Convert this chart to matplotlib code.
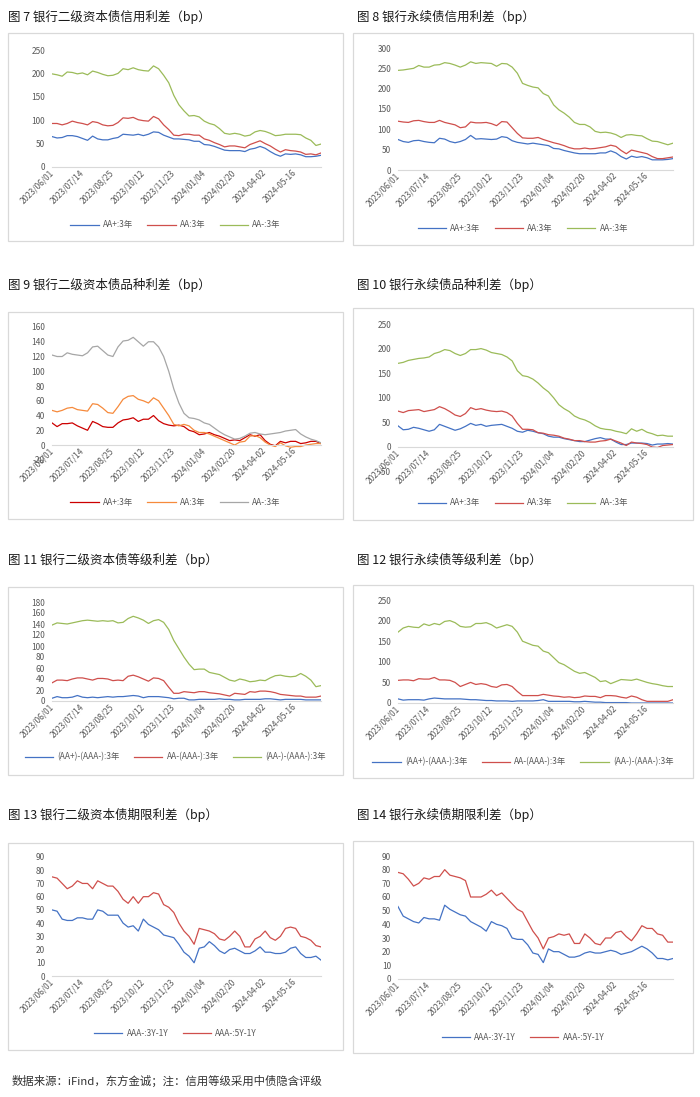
import matplotlib
matplotlib.use("Agg")
import matplotlib.pyplot as plt
from matplotlib.patches import Rectangle

plt.rcParams['font.family'] = ['Noto Sans CJK SC', 'DejaVu Sans']

# sampled trading-day positions (every 5th trading day from 2023/06/01)
day_index = list(range(0, 270, 5))
tick_pos = [0, 30, 60, 90, 120, 150, 180, 210, 240]
tick_labels = ["2023/06/01", "2023/07/14", "2023/08/25", "2023/10/12", "2023/11/23",
               "2024/01/04", "2024/02/20", "2024-04-02", "2024-05-16"]

# Fig 7: bank tier-2 credit spread
aa_plus_7 = [65,62,63,67,67,65,61,57,66,60, 58,58,61,63,70,69,68,70,67,70,
             75,74,68,64,60,60,59,58,55,55, 48,47,44,40,36,35,35,35,33,38,
             40,44,40,33,27,23,28,27,28,26, 22,22,23,25]
aa_7 = [93,93,90,93,98,95,93,90,97,95, 90,88,89,95,105,104,106,101,99,98,
        108,103,90,80,68,67,70,70,68,68, 60,57,52,48,43,45,45,43,41,48,
        52,56,50,45,38,32,37,35,34,32, 27,28,26,30]
aa_minus_7 = [199,197,194,203,202,199,201,197,205,202, 198,195,196,200,210,208,212,208,206,205,
              216,210,196,180,153,133,120,109,110,107, 98,93,90,82,72,70,72,70,66,68,
              75,78,76,72,67,68,70,70,70,69, 62,57,46,49]

# Fig 8: bank perpetual credit spread
aa_plus_8 = [75,70,68,72,73,70,68,67,78,76, 70,67,70,75,85,76,77,76,75,76,
             82,80,72,68,66,64,66,64,62,60, 53,52,48,45,42,40,40,40,40,42,
             42,47,42,33,27,34,31,33,30,25, 25,25,26,28]
aa_8 = [120,118,117,121,122,119,117,117,122,117, 114,111,104,106,118,116,116,117,114,109,
        119,118,104,90,79,78,78,80,75,71, 67,64,60,55,52,52,54,52,53,55,
        57,61,58,48,40,49,46,43,40,33, 28,28,30,32]
aa_minus_8 = [245,246,248,250,257,253,253,258,259,264, 262,258,253,258,266,262,264,263,262,255,
              262,261,253,238,213,208,204,202,188,182, 160,148,140,130,117,112,112,106,95,92,
              93,91,87,80,86,87,85,84,77,71, 70,66,62,66]

# Fig 9: tier-2 variety spread
aa_plus_9 = [30,25,29,29,30,26,23,20,32,29, 25,24,24,30,34,35,37,32,35,35,
             40,33,29,27,26,27,25,20,18,14, 15,17,14,12,9,6,7,6,10,14,
             12,14,6,1,-1,5,3,5,5,2, 3,5,5,2]
aa_9 = [47,45,47,50,51,48,47,46,56,55, 50,44,43,52,62,66,67,62,60,57,
        64,60,50,40,28,26,28,26,20,17, 17,15,12,9,6,3,0,4,5,12,
        13,10,4,0,-2,3,-1,-3,-2,-2, 0,1,2,2]
aa_minus_9 = [122,120,120,125,123,122,121,125,133,134, 128,122,120,133,141,142,146,140,134,140,
              140,133,120,100,76,57,43,37,36,34, 30,28,23,18,14,11,8,9,12,16,
              17,15,14,15,16,17,19,20,21,15, 11,8,6,3]

# Fig 10: perpetual variety spread
aa_plus_10 = [43,35,36,40,38,35,32,35,46,42, 38,34,37,42,48,44,46,42,44,45,
              46,42,38,32,30,34,32,29,27,22, 20,20,17,15,13,11,11,14,17,19,
              16,16,10,5,5,8,8,8,7,4, 6,6,7,6]
aa_10 = [73,70,74,75,76,72,74,76,82,78, 72,65,62,68,80,76,78,75,73,72,
         73,70,63,48,36,36,35,29,28,25, 24,22,18,16,13,13,11,10,10,12,
         13,16,12,8,3,10,8,7,5,0, -1,3,4,5]
aa_minus_10 = [170,172,176,178,180,181,183,190,193,198, 196,190,186,190,198,198,200,197,192,190,
               188,183,175,155,145,143,138,130,120,112, 100,86,78,72,63,58,55,50,43,38,
               36,35,32,30,27,37,32,36,30,27, 23,24,22,22]

# Fig 11: tier-2 grade spread
g11_aap = [5,8,6,6,7,10,7,6,7,6, 7,8,7,8,8,9,10,9,6,8,
           8,8,7,6,4,5,5,2,2,3, 3,3,3,4,3,3,2,2,3,3,
           3,3,4,4,3,2,3,3,3,3, 2,2,2,2]
g11_aa = [33,38,38,37,40,42,42,40,38,41, 41,40,37,38,37,45,47,44,40,36,
          42,41,37,25,14,14,17,16,15,17, 17,15,14,13,11,9,14,13,12,17,
          16,18,18,17,15,12,11,10,9,9, 7,7,7,9]
g11_aam = [138,142,141,140,142,144,146,147,146,145, 146,145,146,142,143,150,154,151,147,141,
           146,148,143,130,110,95,80,67,57,58, 58,52,50,48,43,38,36,40,38,35,
           36,38,37,42,46,47,45,44,45,50, 45,38,26,28]

# Fig 12: perpetual grade spread
g12_aap = [10,7,8,8,8,7,10,12,11,10, 10,10,10,9,8,8,7,6,6,5,
           5,5,4,5,5,5,5,6,8,4, 4,4,4,4,3,3,4,3,2,2,
           1,1,1,1,1,0,0,0,0,0, 0,0,0,0]
g12_aa = [55,56,56,54,59,58,58,62,56,56, 55,50,40,45,50,45,47,45,40,38,
          44,45,40,28,18,18,18,18,21,19, 17,16,14,15,13,14,17,16,16,13,
          18,18,17,14,12,17,14,8,4,4, 4,4,4,8]
g12_aam = [172,182,186,184,183,192,188,193,190,198, 200,195,186,184,185,193,193,195,190,182,
           186,190,186,172,150,145,140,138,126,122, 110,98,93,85,77,72,74,68,62,52,
           54,47,52,57,56,55,58,54,50,47, 45,42,40,40]

# Fig 13: tier-2 term spread
t13_3y = [50,49,43,42,42,44,44,43,43,50, 49,46,46,46,40,37,38,34,43,39,
          37,35,31,30,29,24,18,15,10,21, 22,26,23,19,17,20,21,19,17,17,
          19,22,18,18,17,17,18,21,22,17, 14,14,15,12]
t13_5y = [75,74,70,66,68,72,70,70,66,72, 70,68,68,64,58,55,60,55,60,60,
          63,62,54,52,48,40,34,30,24,36, 35,34,32,28,27,30,34,30,22,22,
          28,30,34,29,27,30,36,37,36,30, 29,27,23,22]

# Fig 14: perpetual term spread
t14_3y = [53,46,44,42,41,45,44,44,43,54, 51,49,47,46,42,40,38,35,42,40,
          39,37,30,29,29,25,19,18,12,22, 20,20,18,16,16,17,19,20,19,19,
          20,21,20,18,19,20,22,24,22,19, 15,15,14,15]
t14_5y = [78,77,73,68,70,74,73,75,75,80, 76,75,74,72,60,60,60,62,65,61,
          63,59,55,51,49,42,35,30,22,30, 31,33,32,33,26,26,33,30,26,25,
          30,30,34,35,31,28,33,39,37,37, 33,32,27,27]

W, H = 700, 1097
fig = plt.figure(figsize=(W / 100, H / 100), dpi=100)

BLUE = '#4472C4'
RED = '#CF4F4C'
GREEN = '#9BBB59'
TICK_C = '#595959'
FS = 6.0


def fx(px):
    return px / W


def fy(py):
    return 1 - py / H


def panel(box, plot, ylim, yticks, series, title, title_x, title_y, legend_y):
    x0, y0, x1, y1 = box
    fig.patches.append(Rectangle((fx(x0), fy(y1)), (x1 - x0) / W, (y1 - y0) / H,
                                 transform=fig.transFigure, fill=False,
                                 edgecolor='#d9d9d9', lw=0.9))
    fig.text(fx(title_x), fy(title_y), title, fontsize=9.0, ha='left', va='center',
             color='#1a1a1a')
    px0, ptop, px1, pbot = plot
    ax = fig.add_axes([fx(px0), fy(pbot), (px1 - px0) / W, (pbot - ptop) / H])
    for s in ['left', 'right', 'top']:
        ax.spines[s].set_visible(False)
    ax.spines['bottom'].set_position(('data', 0))
    ax.spines['bottom'].set_color('#d9d9d9')
    ax.spines['bottom'].set_linewidth(0.8)
    handles = []
    for vals, col, lab in series:
        ln, = ax.plot(day_index, vals, color=col, lw=0.9, label=lab)
        handles.append(ln)
    ax.set_xlim(0, 265)
    ax.set_ylim(*ylim)
    ax.set_yticks(yticks)
    ax.set_yticklabels([str(v) for v in yticks])
    ax.set_xticks(tick_pos)
    ax.set_xticklabels(tick_labels)
    ax.tick_params(axis='both', length=0, labelsize=FS, colors=TICK_C)
    ax.tick_params(axis='y', pad=5)
    ax.tick_params(axis='x', pad=3)
    for lab in ax.get_xticklabels():
        lab.set_rotation(45)
        lab.set_ha('right')
        lab.set_va('center')
        lab.set_rotation_mode('anchor')
    ax.patch.set_alpha(0)
    leg = ax.legend(handles=handles, loc='center',
                    bbox_to_anchor=(fx((x0 + x1) / 2), fy(legend_y)),
                    bbox_transform=fig.transFigure, ncol=len(handles), frameon=False,
                    fontsize=FS, handlelength=3.4, columnspacing=1.7, handletextpad=0.5)
    for t in leg.get_texts():
        t.set_color(TICK_C)
    return ax


panel((8, 33, 343, 241), (52, 50, 321, 167), (0, 250), [0, 50, 100, 150, 200, 250],
      [(aa_plus_7, BLUE, 'AA+:3年'), (aa_7, RED, 'AA:3年'), (aa_minus_7, GREEN, 'AA-:3年')],
      '图 7 银行二级资本债信用利差（bp）', 8, 17, 225)

panel((353, 33, 693, 245), (398, 48, 673, 170), (0, 300), [0, 50, 100, 150, 200, 250, 300],
      [(aa_plus_8, BLUE, 'AA+:3年'), (aa_8, RED, 'AA:3年'), (aa_minus_8, GREEN, 'AA-:3年')],
      '图 8 银行永续债信用利差（bp）', 357, 17, 228)

panel((8, 312, 343, 519), (52, 327, 321, 459.8), (-20, 160), list(range(-20, 161, 20)),
      [(aa_plus_9, '#CC0000', 'AA+:3年'), (aa_9, '#F68A3C', 'AA:3年'),
       (aa_minus_9, '#A6A6A6', 'AA-:3年')],
      '图 9 银行二级资本债品种利差（bp）', 8, 285, 502)

panel((353, 308, 693, 520), (398, 324, 673, 471.6), (-50, 250), list(range(-50, 251, 50)),
      [(aa_plus_10, BLUE, 'AA+:3年'), (aa_10, RED, 'AA:3年'), (aa_minus_10, GREEN, 'AA-:3年')],
      '图 10 银行永续债品种利差（bp）', 357, 285, 503)

panel((8, 587, 343, 775), (52, 602, 321, 701), (0, 180), list(range(0, 181, 20)),
      [(g11_aap, BLUE, '(AA+)-(AAA-):3年'), (g11_aa, RED, 'AA-(AAA-):3年'),
       (g11_aam, GREEN, '(AA-)-(AAA-):3年')],
      '图 11 银行二级资本债等级利差（bp）', 8, 560, 757)

panel((353, 585, 693, 778), (398, 600, 673, 703), (0, 250), [0, 50, 100, 150, 200, 250],
      [(g12_aap, BLUE, '(AA+)-(AAA-):3年'), (g12_aa, RED, 'AA-(AAA-):3年'),
       (g12_aam, GREEN, '(AA-)-(AAA-):3年')],
      '图 12 银行永续债等级利差（bp）', 357, 560, 762)

panel((8, 843, 343, 1050), (52, 857, 321, 976), (0, 90), list(range(0, 91, 10)),
      [(t13_3y, BLUE, 'AAA-:3Y-1Y'), (t13_5y, RED, 'AAA-:5Y-1Y')],
      '图 13 银行二级资本债期限利差（bp）', 8, 815, 1033)

panel((353, 841, 693, 1053), (398, 856, 673, 979), (0, 90), list(range(0, 91, 10)),
      [(t14_3y, BLUE, 'AAA-:3Y-1Y'), (t14_5y, RED, 'AAA-:5Y-1Y')],
      '图 14 银行永续债期限利差（bp）', 357, 815, 1037)

fig.text(fx(12), fy(1081), '数据来源：iFind，东方金诚；注：信用等级采用中债隐含评级',
         fontsize=8.2, ha='left', va='center', color='#333333')

fig.savefig('out.png', dpi=100, facecolor='white')
